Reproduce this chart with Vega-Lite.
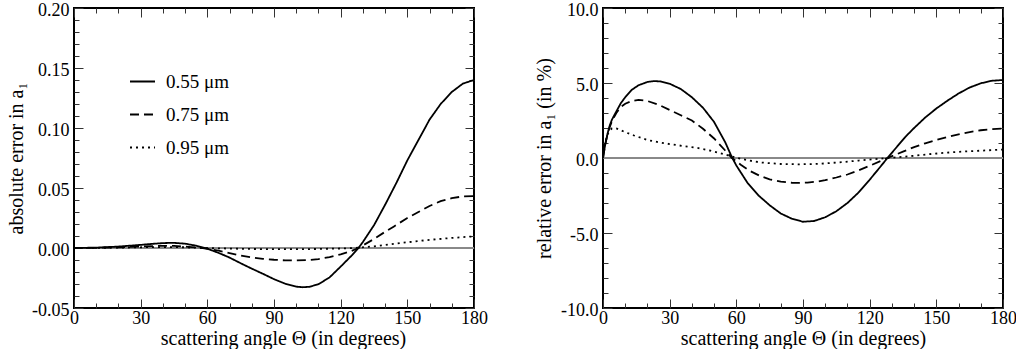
{
  "$schema": "https://vega.github.io/schema/vega-lite/v6.json",
  "padding": {"left": 5, "top": 0, "right": 0, "bottom": 0},
  "bounds": "flush",
  "spacing": 129,
  "config": {
    "font": "Liberation Serif",
    "view": {"stroke": "black", "strokeWidth": 2},
    "axis": {"grid": false, "labelFont": "Liberation Serif", "titleFont": "Liberation Serif", "labelColor": "black", "titleColor": "black", "titleFontWeight": "normal", "tickColor": "#333", "tickWidth": 1, "labelFlush": false, "labelOverlap": false, "labelBound": false},
    "legend": {"labelFont": "Liberation Serif"}
  },
  "resolve": {"scale": {"strokeDash": "independent"}, "legend": {"strokeDash": "independent"}},
  "datasets": {
    "abs": [
      {"t":0,"v":0,"s":"0.55 μm"},{"t":10,"v":0.0003,"s":"0.55 μm"},{"t":20,"v":0.0012,"s":"0.55 μm"},{"t":30,"v":0.0026,"s":"0.55 μm"},{"t":35,"v":0.0034,"s":"0.55 μm"},{"t":40,"v":0.0041,"s":"0.55 μm"},{"t":45,"v":0.0043,"s":"0.55 μm"},{"t":50,"v":0.0036,"s":"0.55 μm"},{"t":55,"v":0.0019,"s":"0.55 μm"},{"t":60,"v":-0.0006,"s":"0.55 μm"},{"t":65,"v":-0.004,"s":"0.55 μm"},{"t":70,"v":-0.008,"s":"0.55 μm"},{"t":75,"v":-0.0127,"s":"0.55 μm"},{"t":80,"v":-0.0172,"s":"0.55 μm"},{"t":85,"v":-0.0215,"s":"0.55 μm"},{"t":90,"v":-0.026,"s":"0.55 μm"},{"t":95,"v":-0.0297,"s":"0.55 μm"},{"t":100,"v":-0.0322,"s":"0.55 μm"},{"t":103,"v":-0.0327,"s":"0.55 μm"},{"t":106,"v":-0.0323,"s":"0.55 μm"},{"t":110,"v":-0.0302,"s":"0.55 μm"},{"t":115,"v":-0.0245,"s":"0.55 μm"},{"t":120,"v":-0.0155,"s":"0.55 μm"},{"t":125,"v":-0.0062,"s":"0.55 μm"},{"t":128,"v":0,"s":"0.55 μm"},{"t":130,"v":0.005,"s":"0.55 μm"},{"t":135,"v":0.019,"s":"0.55 μm"},{"t":140,"v":0.036,"s":"0.55 μm"},{"t":145,"v":0.054,"s":"0.55 μm"},{"t":150,"v":0.073,"s":"0.55 μm"},{"t":155,"v":0.09,"s":"0.55 μm"},{"t":160,"v":0.107,"s":"0.55 μm"},{"t":165,"v":0.12,"s":"0.55 μm"},{"t":170,"v":0.13,"s":"0.55 μm"},{"t":175,"v":0.137,"s":"0.55 μm"},{"t":180,"v":0.14,"s":"0.55 μm"},
      {"t":0,"v":0,"s":"0.75 μm"},{"t":10,"v":0.0001,"s":"0.75 μm"},{"t":20,"v":0.0006,"s":"0.75 μm"},{"t":30,"v":0.0013,"s":"0.75 μm"},{"t":40,"v":0.0018,"s":"0.75 μm"},{"t":45,"v":0.0017,"s":"0.75 μm"},{"t":50,"v":0.0012,"s":"0.75 μm"},{"t":55,"v":0.0005,"s":"0.75 μm"},{"t":58,"v":0,"s":"0.75 μm"},{"t":65,"v":-0.0022,"s":"0.75 μm"},{"t":70,"v":-0.0042,"s":"0.75 μm"},{"t":75,"v":-0.0063,"s":"0.75 μm"},{"t":80,"v":-0.0078,"s":"0.75 μm"},{"t":85,"v":-0.009,"s":"0.75 μm"},{"t":90,"v":-0.0098,"s":"0.75 μm"},{"t":95,"v":-0.0103,"s":"0.75 μm"},{"t":100,"v":-0.0104,"s":"0.75 μm"},{"t":105,"v":-0.0101,"s":"0.75 μm"},{"t":110,"v":-0.0092,"s":"0.75 μm"},{"t":115,"v":-0.0076,"s":"0.75 μm"},{"t":120,"v":-0.0053,"s":"0.75 μm"},{"t":125,"v":-0.0024,"s":"0.75 μm"},{"t":128,"v":0,"s":"0.75 μm"},{"t":135,"v":0.0075,"s":"0.75 μm"},{"t":140,"v":0.0135,"s":"0.75 μm"},{"t":144,"v":0.018,"s":"0.75 μm"},{"t":150,"v":0.025,"s":"0.75 μm"},{"t":155,"v":0.03,"s":"0.75 μm"},{"t":160,"v":0.035,"s":"0.75 μm"},{"t":165,"v":0.039,"s":"0.75 μm"},{"t":170,"v":0.0415,"s":"0.75 μm"},{"t":175,"v":0.043,"s":"0.75 μm"},{"t":180,"v":0.0433,"s":"0.75 μm"},
      {"t":0,"v":0,"s":"0.95 μm"},{"t":20,"v":0.0003,"s":"0.95 μm"},{"t":30,"v":0.0006,"s":"0.95 μm"},{"t":40,"v":0.0008,"s":"0.95 μm"},{"t":50,"v":0.0006,"s":"0.95 μm"},{"t":58,"v":0,"s":"0.95 μm"},{"t":70,"v":-0.0005,"s":"0.95 μm"},{"t":80,"v":-0.0008,"s":"0.95 μm"},{"t":90,"v":-0.001,"s":"0.95 μm"},{"t":100,"v":-0.001,"s":"0.95 μm"},{"t":110,"v":-0.0008,"s":"0.95 μm"},{"t":120,"v":-0.0004,"s":"0.95 μm"},{"t":126,"v":0,"s":"0.95 μm"},{"t":135,"v":0.0014,"s":"0.95 μm"},{"t":140,"v":0.0025,"s":"0.95 μm"},{"t":150,"v":0.0048,"s":"0.95 μm"},{"t":160,"v":0.0068,"s":"0.95 μm"},{"t":170,"v":0.0084,"s":"0.95 μm"},{"t":180,"v":0.0097,"s":"0.95 μm"}
    ],
    "rel": [
      {"t":0,"v":0,"s":"0.55 μm"},{"t":1,"v":0.9,"s":"0.55 μm"},{"t":2,"v":1.6,"s":"0.55 μm"},{"t":3,"v":2.15,"s":"0.55 μm"},{"t":4,"v":2.55,"s":"0.55 μm"},{"t":6,"v":3.1,"s":"0.55 μm"},{"t":8,"v":3.65,"s":"0.55 μm"},{"t":10,"v":4.05,"s":"0.55 μm"},{"t":13,"v":4.55,"s":"0.55 μm"},{"t":16,"v":4.85,"s":"0.55 μm"},{"t":20,"v":5.07,"s":"0.55 μm"},{"t":23,"v":5.13,"s":"0.55 μm"},{"t":26,"v":5.1,"s":"0.55 μm"},{"t":30,"v":4.95,"s":"0.55 μm"},{"t":35,"v":4.6,"s":"0.55 μm"},{"t":40,"v":4.05,"s":"0.55 μm"},{"t":45,"v":3.35,"s":"0.55 μm"},{"t":50,"v":2.4,"s":"0.55 μm"},{"t":55,"v":1.05,"s":"0.55 μm"},{"t":58,"v":0.05,"s":"0.55 μm"},{"t":60,"v":-0.5,"s":"0.55 μm"},{"t":65,"v":-1.65,"s":"0.55 μm"},{"t":70,"v":-2.5,"s":"0.55 μm"},{"t":75,"v":-3.15,"s":"0.55 μm"},{"t":80,"v":-3.7,"s":"0.55 μm"},{"t":85,"v":-4.05,"s":"0.55 μm"},{"t":90,"v":-4.25,"s":"0.55 μm"},{"t":95,"v":-4.2,"s":"0.55 μm"},{"t":100,"v":-3.95,"s":"0.55 μm"},{"t":105,"v":-3.55,"s":"0.55 μm"},{"t":110,"v":-3.0,"s":"0.55 μm"},{"t":115,"v":-2.3,"s":"0.55 μm"},{"t":120,"v":-1.45,"s":"0.55 μm"},{"t":125,"v":-0.55,"s":"0.55 μm"},{"t":128,"v":0,"s":"0.55 μm"},{"t":132,"v":0.7,"s":"0.55 μm"},{"t":136,"v":1.4,"s":"0.55 μm"},{"t":140,"v":2.0,"s":"0.55 μm"},{"t":145,"v":2.7,"s":"0.55 μm"},{"t":150,"v":3.3,"s":"0.55 μm"},{"t":155,"v":3.82,"s":"0.55 μm"},{"t":160,"v":4.3,"s":"0.55 μm"},{"t":165,"v":4.7,"s":"0.55 μm"},{"t":170,"v":4.98,"s":"0.55 μm"},{"t":175,"v":5.15,"s":"0.55 μm"},{"t":180,"v":5.2,"s":"0.55 μm"},
      {"t":0,"v":0,"s":"0.75 μm"},{"t":1,"v":0.9,"s":"0.75 μm"},{"t":2,"v":1.55,"s":"0.75 μm"},{"t":3,"v":2.05,"s":"0.75 μm"},{"t":4,"v":2.45,"s":"0.75 μm"},{"t":6,"v":3.0,"s":"0.75 μm"},{"t":8,"v":3.4,"s":"0.75 μm"},{"t":10,"v":3.62,"s":"0.75 μm"},{"t":13,"v":3.8,"s":"0.75 μm"},{"t":16,"v":3.88,"s":"0.75 μm"},{"t":20,"v":3.8,"s":"0.75 μm"},{"t":25,"v":3.55,"s":"0.75 μm"},{"t":30,"v":3.2,"s":"0.75 μm"},{"t":35,"v":2.85,"s":"0.75 μm"},{"t":40,"v":2.5,"s":"0.75 μm"},{"t":45,"v":1.95,"s":"0.75 μm"},{"t":50,"v":1.3,"s":"0.75 μm"},{"t":55,"v":0.5,"s":"0.75 μm"},{"t":58,"v":0,"s":"0.75 μm"},{"t":62,"v":-0.45,"s":"0.75 μm"},{"t":66,"v":-0.85,"s":"0.75 μm"},{"t":71,"v":-1.22,"s":"0.75 μm"},{"t":75,"v":-1.42,"s":"0.75 μm"},{"t":80,"v":-1.57,"s":"0.75 μm"},{"t":85,"v":-1.65,"s":"0.75 μm"},{"t":88,"v":-1.66,"s":"0.75 μm"},{"t":92,"v":-1.64,"s":"0.75 μm"},{"t":96,"v":-1.58,"s":"0.75 μm"},{"t":100,"v":-1.48,"s":"0.75 μm"},{"t":105,"v":-1.3,"s":"0.75 μm"},{"t":110,"v":-1.1,"s":"0.75 μm"},{"t":115,"v":-0.82,"s":"0.75 μm"},{"t":120,"v":-0.52,"s":"0.75 μm"},{"t":125,"v":-0.2,"s":"0.75 μm"},{"t":128,"v":0,"s":"0.75 μm"},{"t":135,"v":0.42,"s":"0.75 μm"},{"t":140,"v":0.73,"s":"0.75 μm"},{"t":145,"v":0.98,"s":"0.75 μm"},{"t":150,"v":1.2,"s":"0.75 μm"},{"t":155,"v":1.4,"s":"0.75 μm"},{"t":160,"v":1.58,"s":"0.75 μm"},{"t":165,"v":1.73,"s":"0.75 μm"},{"t":170,"v":1.85,"s":"0.75 μm"},{"t":175,"v":1.93,"s":"0.75 μm"},{"t":180,"v":1.96,"s":"0.75 μm"},
      {"t":0,"v":0,"s":"0.95 μm"},{"t":1,"v":1.0,"s":"0.95 μm"},{"t":2,"v":1.55,"s":"0.95 μm"},{"t":3,"v":1.85,"s":"0.95 μm"},{"t":4,"v":1.97,"s":"0.95 μm"},{"t":5,"v":2.0,"s":"0.95 μm"},{"t":6,"v":1.97,"s":"0.95 μm"},{"t":8,"v":1.85,"s":"0.95 μm"},{"t":10,"v":1.72,"s":"0.95 μm"},{"t":14,"v":1.5,"s":"0.95 μm"},{"t":20,"v":1.2,"s":"0.95 μm"},{"t":25,"v":1.05,"s":"0.95 μm"},{"t":30,"v":0.93,"s":"0.95 μm"},{"t":36,"v":0.8,"s":"0.95 μm"},{"t":42,"v":0.69,"s":"0.95 μm"},{"t":48,"v":0.5,"s":"0.95 μm"},{"t":54,"v":0.27,"s":"0.95 μm"},{"t":60,"v":0.02,"s":"0.95 μm"},{"t":65,"v":-0.15,"s":"0.95 μm"},{"t":71,"v":-0.3,"s":"0.95 μm"},{"t":80,"v":-0.4,"s":"0.95 μm"},{"t":88,"v":-0.42,"s":"0.95 μm"},{"t":95,"v":-0.4,"s":"0.95 μm"},{"t":100,"v":-0.36,"s":"0.95 μm"},{"t":108,"v":-0.27,"s":"0.95 μm"},{"t":115,"v":-0.17,"s":"0.95 μm"},{"t":122,"v":-0.08,"s":"0.95 μm"},{"t":128,"v":0,"s":"0.95 μm"},{"t":135,"v":0.08,"s":"0.95 μm"},{"t":140,"v":0.15,"s":"0.95 μm"},{"t":148,"v":0.27,"s":"0.95 μm"},{"t":155,"v":0.36,"s":"0.95 μm"},{"t":162,"v":0.43,"s":"0.95 μm"},{"t":170,"v":0.49,"s":"0.95 μm"},{"t":180,"v":0.56,"s":"0.95 μm"}
    ]
  },
  "hconcat": [
    {
      "width": 400, "height": 300,
      "data": {"name": "abs"},
      "resolve": {"axis": {"x": "independent", "y": "independent"}},
      "layer": [
        {"mark": {"type": "rule", "color": "#888", "strokeWidth": 1},
         "encoding": {"y": {"datum": 0, "type": "quantitative", "scale": {"domain": [-0.05, 0.2], "nice": false, "zero": false}, "axis": null}}},
        {"mark": {"type": "line", "color": "black", "strokeWidth": 1.8},
         "encoding": {
           "x": {"field": "t", "type": "quantitative", "scale": {"domain": [0, 180], "nice": false, "zero": false},
                 "axis": {"orient": "bottom", "values": [0,30,60,90,120,150,180], "ticks": false, "domain": false, "labelFont": "Liberation Serif", "labelFontSize": 18, "labelPadding": 1, "title": "scattering angle Θ (in degrees)", "titleFont": "Liberation Serif", "titleFontSize": 20, "titlePadding": 1, "titleX": 209}},
           "y": {"field": "v", "type": "quantitative", "scale": {"domain": [-0.05, 0.2], "nice": false, "zero": false},
                 "axis": {"orient": "left", "values": [-0.05,0,0.05,0.1,0.15,0.2], "ticks": false, "domain": false, "labelFont": "Liberation Serif", "labelFontSize": 18, "labelPadding": 5, "labelOffset": 2, "labelExpr": "replace(format(datum.value, '.2f'), '−', '-')", "title": "absolute error in a₁", "titleFont": "Liberation Serif", "titleFontSize": 20, "titlePadding": 5}},
           "strokeDash": {"field": "s", "type": "nominal",
                          "scale": {"domain": ["0.55 μm", "0.75 μm", "0.95 μm"], "range": [[1, 0], [9, 5], [2, 4]]},
                          "legend": {"orient": "none", "legendX": 55, "legendY": 60, "title": null, "symbolType": "stroke", "symbolSize": 625, "symbolStrokeWidth": 1.8, "symbolStrokeColor": "black", "labelFont": "Liberation Serif", "labelFontSize": 19, "labelColor": "black", "labelOffset": 10, "rowPadding": 9, "padding": 0}}
         }},
        {"mark": {"type": "point", "opacity": 0},
         "encoding": {
           "x": {"field": "t", "type": "quantitative", "axis": {"orient": "bottom", "values": [0,30,60,90,120,150,180], "labels": false, "domain": false, "tickSize": -9, "title": null}},
           "y": {"field": "v", "type": "quantitative", "axis": {"orient": "left", "values": [-0.05,0,0.05,0.1,0.15,0.2], "labels": false, "domain": false, "tickSize": -9, "title": null}}
         }},
        {"mark": {"type": "point", "opacity": 0},
         "encoding": {
           "x": {"field": "t", "type": "quantitative", "axis": {"orient": "bottom", "values": [10,20,40,50,70,80,100,110,130,140,160,170], "labels": false, "domain": false, "tickSize": -5, "title": null}},
           "y": {"field": "v", "type": "quantitative", "axis": {"orient": "left", "values": [-0.04,-0.03,-0.02,-0.01,0.01,0.02,0.03,0.04,0.06,0.07,0.08,0.09,0.11,0.12,0.13,0.14,0.16,0.17,0.18,0.19], "labels": false, "domain": false, "tickSize": -5, "title": null}}
         }},
        {"mark": {"type": "point", "opacity": 0},
         "encoding": {
           "x": {"field": "t", "type": "quantitative", "axis": {"orient": "top", "values": [0,30,60,90,120,150,180], "labels": false, "domain": false, "tickSize": -9, "title": null}},
           "y": {"field": "v", "type": "quantitative", "axis": {"orient": "right", "values": [-0.05,0,0.05,0.1,0.15,0.2], "labels": false, "domain": false, "tickSize": -9, "title": null}}
         }},
        {"mark": {"type": "point", "opacity": 0},
         "encoding": {
           "x": {"field": "t", "type": "quantitative", "axis": {"orient": "top", "values": [10,20,40,50,70,80,100,110,130,140,160,170], "labels": false, "domain": false, "tickSize": -5, "title": null}},
           "y": {"field": "v", "type": "quantitative", "axis": {"orient": "right", "values": [-0.04,-0.03,-0.02,-0.01,0.01,0.02,0.03,0.04,0.06,0.07,0.08,0.09,0.11,0.12,0.13,0.14,0.16,0.17,0.18,0.19], "labels": false, "domain": false, "tickSize": -5, "title": null}}
         }}
      ]
    },
    {
      "width": 400, "height": 300,
      "data": {"name": "rel"},
      "resolve": {"axis": {"x": "independent", "y": "independent"}},
      "layer": [
        {"mark": {"type": "rule", "color": "#888", "strokeWidth": 1},
         "encoding": {"y": {"datum": 0, "type": "quantitative", "scale": {"domain": [-10, 10], "nice": false, "zero": false}, "axis": null}}},
        {"mark": {"type": "line", "color": "black", "strokeWidth": 1.8},
         "encoding": {
           "x": {"field": "t", "type": "quantitative", "scale": {"domain": [0, 180], "nice": false, "zero": false},
                 "axis": {"orient": "bottom", "values": [0,30,60,90,120,150,180], "ticks": false, "domain": false, "labelFont": "Liberation Serif", "labelFontSize": 18, "labelPadding": 1, "title": "scattering angle Θ (in degrees)", "titleFont": "Liberation Serif", "titleFontSize": 20, "titlePadding": 1}},
           "y": {"field": "v", "type": "quantitative", "scale": {"domain": [-10, 10], "nice": false, "zero": false},
                 "axis": {"orient": "left", "values": [-10,-5,0,5,10], "ticks": false, "domain": false, "labelFont": "Liberation Serif", "labelFontSize": 18, "labelPadding": 5, "labelOffset": 2, "labelExpr": "replace(format(datum.value, '.1f'), '−', '-')", "title": "relative error in a₁ (in %)", "titleFont": "Liberation Serif", "titleFontSize": 20, "titlePadding": 6}},
           "strokeDash": {"field": "s", "type": "nominal",
                          "scale": {"domain": ["0.55 μm", "0.75 μm", "0.95 μm"], "range": [[1, 0], [9, 5], [2, 4]]},
                          "legend": null}
         }},
        {"mark": {"type": "point", "opacity": 0},
         "encoding": {
           "x": {"field": "t", "type": "quantitative", "axis": {"orient": "bottom", "values": [0,30,60,90,120,150,180], "labels": false, "domain": false, "tickSize": -9, "title": null}},
           "y": {"field": "v", "type": "quantitative", "axis": {"orient": "left", "values": [-10,-5,0,5,10], "labels": false, "domain": false, "tickSize": -9, "title": null}}
         }},
        {"mark": {"type": "point", "opacity": 0},
         "encoding": {
           "x": {"field": "t", "type": "quantitative", "axis": {"orient": "bottom", "values": [10,20,40,50,70,80,100,110,130,140,160,170], "labels": false, "domain": false, "tickSize": -5, "title": null}},
           "y": {"field": "v", "type": "quantitative", "axis": {"orient": "left", "values": [-9,-8,-7,-6,-4,-3,-2,-1,1,2,3,4,6,7,8,9], "labels": false, "domain": false, "tickSize": -5, "title": null}}
         }},
        {"mark": {"type": "point", "opacity": 0},
         "encoding": {
           "x": {"field": "t", "type": "quantitative", "axis": {"orient": "top", "values": [0,30,60,90,120,150,180], "labels": false, "domain": false, "tickSize": -9, "title": null}},
           "y": {"field": "v", "type": "quantitative", "axis": {"orient": "right", "values": [-10,-5,0,5,10], "labels": false, "domain": false, "tickSize": -9, "title": null}}
         }},
        {"mark": {"type": "point", "opacity": 0},
         "encoding": {
           "x": {"field": "t", "type": "quantitative", "axis": {"orient": "top", "values": [10,20,40,50,70,80,100,110,130,140,160,170], "labels": false, "domain": false, "tickSize": -5, "title": null}},
           "y": {"field": "v", "type": "quantitative", "axis": {"orient": "right", "values": [-9,-8,-7,-6,-4,-3,-2,-1,1,2,3,4,6,7,8,9], "labels": false, "domain": false, "tickSize": -5, "title": null}}
         }}
      ]
    }
  ]
}
